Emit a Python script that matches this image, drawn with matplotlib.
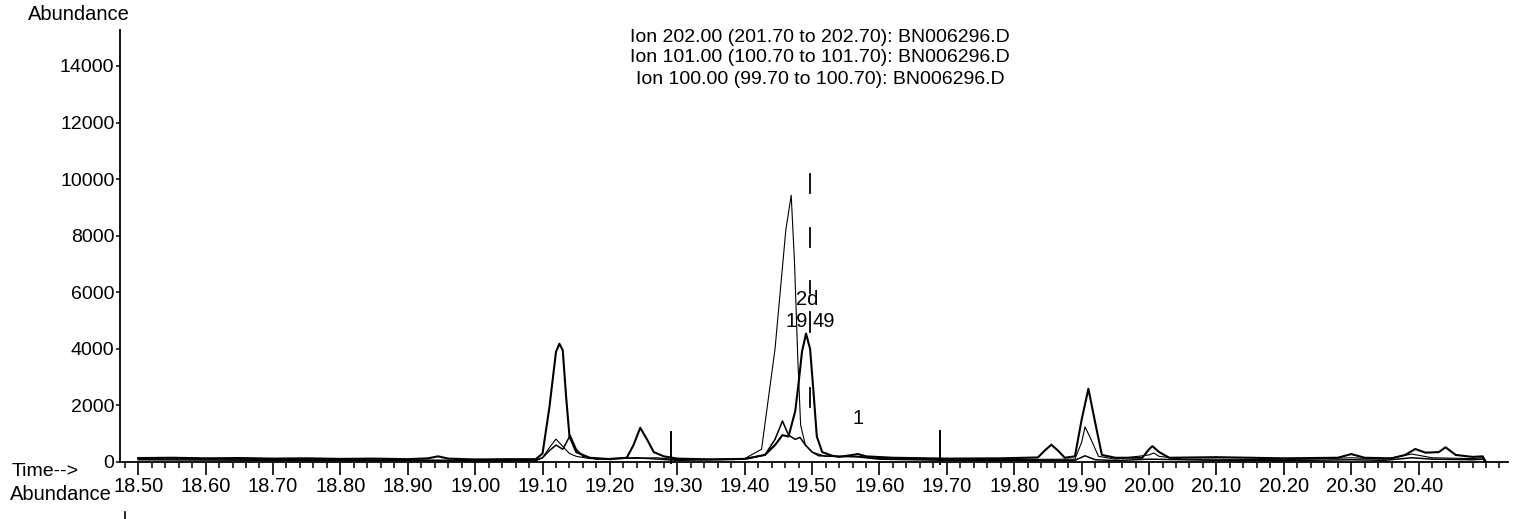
import matplotlib
matplotlib.use("Agg")
import matplotlib.pyplot as plt
from matplotlib.lines import Line2D
from matplotlib.ticker import MultipleLocator

plt.rcParams['font.family'] = ['Liberation Sans', 'DejaVu Sans']

# Ion 202.00
t202 = [18.50, 18.55, 18.60, 18.65, 18.70, 18.75, 18.80, 18.85, 18.90, 18.93, 18.945, 18.96,
        19.00, 19.05, 19.09, 19.10, 19.11, 19.12, 19.125, 19.13, 19.135, 19.14, 19.15, 19.17,
        19.20, 19.225, 19.235, 19.245, 19.255, 19.265, 19.28, 19.30, 19.35, 19.40, 19.43, 19.445,
        19.456, 19.465, 19.475, 19.48, 19.485, 19.491, 19.497, 19.502, 19.507, 19.515, 19.53, 19.54,
        19.56, 19.568, 19.58, 19.62, 19.70, 19.78, 19.835, 19.845, 19.855, 19.865, 19.875, 19.89,
        19.90, 19.91, 19.92, 19.93, 19.95, 19.99, 20.00, 20.005, 20.015, 20.03, 20.10, 20.20,
        20.28, 20.30, 20.32, 20.36, 20.38, 20.395, 20.41, 20.43, 20.44, 20.455, 20.48, 20.495, 20.50]
a202 = [140, 150, 130, 140, 120, 130, 110, 120, 100, 130, 200, 120,
        90, 100, 100, 300, 1900, 3900, 4180, 3950, 2300, 900, 350, 150,
        100, 150, 600, 1210, 800, 350, 200, 120, 90, 110, 250, 600,
        950, 900, 1800, 2800, 3900, 4540, 4000, 2500, 900, 350, 220, 180,
        250, 280, 200, 150, 120, 130, 160, 400, 610, 400, 150, 200,
        1500, 2590, 1400, 250, 150, 150, 450, 560, 350, 150, 170, 130,
        150, 280, 150, 130, 250, 460, 330, 350, 520, 250, 180, 200, 0]

# Ion 101.00
t101 = [18.50, 18.60, 18.70, 18.80, 18.90, 19.00, 19.09, 19.10, 19.11, 19.12, 19.13, 19.14,
        19.15, 19.17, 19.24, 19.27, 19.30, 19.40, 19.425, 19.445, 19.461, 19.469, 19.474, 19.479,
        19.483, 19.49, 19.50, 19.52, 19.568, 19.60, 19.70, 19.80, 19.89, 19.90, 19.905, 19.912,
        19.925, 19.95, 20.00, 20.007, 20.015, 20.05, 20.10, 20.20, 20.30, 20.35, 20.39, 20.42,
        20.48, 20.495, 20.50]
a101 = [110, 100, 90, 80, 70, 60, 70, 150, 500, 810, 550, 300,
        200, 120, 130, 150, 80, 120, 450, 4000, 8200, 9430, 7000, 3500,
        1300, 600, 350, 200, 200, 120, 80, 90, 100, 700, 1240, 900,
        200, 100, 250, 320, 200, 100, 100, 80, 150, 100, 280, 150,
        120, 150, 0]

# Ion 100.00
t100 = [18.50, 18.60, 18.70, 18.80, 18.90, 19.00, 19.09, 19.10, 19.11, 19.12, 19.13, 19.141,
        19.15, 19.16, 19.18, 19.24, 19.30, 19.40, 19.43, 19.445, 19.456, 19.465, 19.475, 19.482,
        19.49, 19.50, 19.51, 19.568, 19.60, 19.70, 19.80, 19.89, 19.905, 19.92, 19.95, 20.00,
        20.10, 20.20, 20.30, 20.35, 20.39, 20.42, 20.48, 20.495, 20.50]
a100 = [80, 70, 60, 50, 60, 40, 50, 150, 400, 600, 450, 940,
        450, 200, 100, 150, 60, 100, 250, 800, 1450, 950, 800, 870,
        600, 350, 220, 180, 100, 60, 60, 60, 220, 80, 50, 100,
        60, 50, 80, 60, 150, 100, 80, 100, 0]

# integration markers and peak label
marker_t = [19.29, 19.69]
marker_lo = [-50, -70]
marker_hi = [1050, 1100]
dash_t = 19.497
dash_segments = [(9520, 10190), (7600, 8270), (5970, 6400), (4590, 5300), (1940, 2610)]

titles = ["Ion 202.00 (201.70 to 202.70): BN006296.D",
          "Ion 101.00 (100.70 to 101.70): BN006296.D",
          "Ion 100.00 (99.70 to 100.70): BN006296.D"]

W, H = 1518, 519
fig = plt.figure(figsize=(W / 100, H / 100), dpi=100)
ax = fig.add_axes([120 / W, 1 - 462 / H, (1508 - 120) / W, (462 - 30) / H])

ax.plot(t202, a202, color='black', lw=1.5)
ax.plot(t101, a101, color='black', lw=0.8)
ax.plot(t100, a100, color='black', lw=1.1)

for t, lo, hi in zip(marker_t, marker_lo, marker_hi):
    ax.plot([t, t], [lo, hi], color='black', lw=1.4, clip_on=False)
for lo, hi in dash_segments:
    ax.plot([dash_t, dash_t], [lo, hi], color='black', lw=1.3)

ax.text(19.493, 5760, "2d", ha='center', va='center', fontsize=14.5)
ax.text(dash_t - 0.003, 4980, "19", ha='right', va='center', fontsize=14.5)
ax.text(dash_t + 0.003, 4980, "49", ha='left', va='center', fontsize=14.5)
ax.text(19.568, 1520, "1", ha='center', va='center', fontsize=14.5)

ax.set_xlim(18.473, 18.5 + (1508 - 138) / 674)
ax.set_ylim(0, 15270)
for s in ['top', 'right']:
    ax.spines[s].set_visible(False)
for s in ['left', 'bottom']:
    ax.spines[s].set_linewidth(1.3)

ax.xaxis.set_minor_locator(MultipleLocator(0.02))
ax.set_yticks(range(0, 14001, 2000))
ax.set_xticks([18.5 + 0.1 * i for i in range(20)])
ax.set_xticklabels([f"{18.5 + 0.1 * i:.2f}" for i in range(20)])
ax.tick_params(axis='x', which='major', length=9.5, width=1.2, labelsize=14.5, pad=1.5)
ax.tick_params(axis='x', which='minor', length=4.5, width=1.1)
ax.tick_params(axis='y', which='major', length=3, width=1.1, labelsize=14, pad=1)

for i, s in enumerate(titles):
    fig.text(820 / W, 1 - (37 + 21 * i) / H, s, ha='center', va='center', fontsize=14)

fig.text(28 / W, 1 - 15 / H, "Abundance", ha='left', va='center', fontsize=14.5)
fig.text(12 / W, 1 - 472 / H, "Time-->", ha='left', va='center', fontsize=14)
fig.text(10 / W, 1 - 495 / H, "Abundance", ha='left', va='center', fontsize=14.5)
fig.add_artist(Line2D([125 / W, 125 / W], [0, 1 - 512 / H], color='black', lw=1.2))

fig.savefig("out.png", dpi=100, facecolor='white')
